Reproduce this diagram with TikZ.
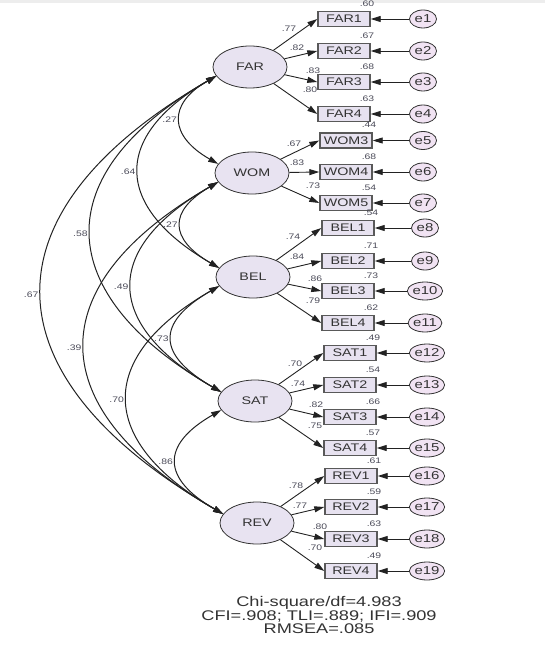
\documentclass[tikz,border=0pt]{standalone}
\usepackage{fontspec}
\setmainfont{Liberation Sans}[FakeStretch=1.3]
\usetikzlibrary{shapes.geometric,arrows.meta}
\definecolor{latfill}{HTML}{E8E3F1}
\definecolor{boxfill}{HTML}{E7E2F0}
\definecolor{errfill}{HTML}{F1E3F3}
\definecolor{numcol}{HTML}{4A4A58}
\definecolor{txtcol}{HTML}{333333}
\definecolor{linecol}{HTML}{222222}
\tikzset{
  lat/.style={ellipse, draw=txtcol, line width=0.8pt, fill=latfill, minimum width=74pt, minimum height=42pt, inner sep=0pt, text=txtcol, font=\fontsize{11}{13}\selectfont},
  item/.style={rectangle, draw=black!65, line width=1.4pt, fill=boxfill, minimum width=52pt, minimum height=15pt, inner sep=0pt, text=txtcol, font=\fontsize{11}{13}\selectfont},
  err/.style={ellipse, draw=txtcol, line width=0.8pt, fill=errfill, minimum width=27pt, minimum height=18pt, inner sep=0pt, text=txtcol, font=\fontsize{11.5}{13}\selectfont},
  lab/.style={text=numcol, font=\fontsize{8}{9}\selectfont, inner sep=0pt},
  arr/.style={draw=linecol, line width=0.9pt, -{Triangle[length=10pt,width=6pt]}},
  cov/.style={draw=linecol, line width=1pt, {Triangle[length=10pt,width=6pt]}-{Triangle[length=10pt,width=6pt]}},
  fit/.style={align=center, text=txtcol, font=\fontsize{14}{13.4}\selectfont, inner sep=0pt}
}
\begin{document}
\begin{tikzpicture}[x=1pt,y=-1pt]
\useasboundingbox (0,0) rectangle (545,663);
\fill[black!7] (0,0) rectangle (545,3);
% latent variables
\node[lat] (FAR) at (250,67) {FAR};
\node[lat] (WOM) at (252,173) {WOM};
\node[lat] (BEL) at (253,277) {BEL};
\node[lat] (SAT) at (255,401) {SAT};
\node[lat] (REV) at (257,523) {REV};
% indicators, errors, R2
\foreach \n/\x/\y/\e/\ex/\r in {
  FAR1/344/19/e1/423/.60, FAR2/344/51/e2/423/.67, FAR3/344/82/e3/423/.68, FAR4/344/114/e4/423/.63,
  WOM3/346/140.5/e5/423/.44, WOM4/346/172/e6/423/.68, WOM5/346/203/e7/423/.54,
  BEL1/348/228/e8/425/.54, BEL2/348/261/e9/425/.71, BEL3/348/291/e10/425/.73, BEL4/348/323/e11/425/.62,
  SAT1/350/353/e12/427/.49, SAT2/350/385/e13/427/.54, SAT3/350/417/e14/427/.66, SAT4/350/448/e15/427/.57,
  REV1/351/476/e16/427/.61, REV2/351/507/e17/427/.59, REV3/351/539/e18/427/.63, REV4/351/571/e19/427/.49}{
  \node[item] (\n) at (\x,\y) {\n};
  \node[err] (\e) at (\ex,\y) {\e};
  \draw[arr] (\e) -- (\n);
  \node[lab] at (\x+23,\y-15.5) {\r};
}
% loadings
\draw[arr] (FAR) -- (FAR1.west); \node[lab] at (289,29) {.77};
\draw[arr] (FAR) -- (FAR2.west); \node[lab] at (297,48) {.82};
\draw[arr] (FAR) -- (FAR3.west); \node[lab] at (313,71) {.83};
\draw[arr] (FAR) -- (FAR4.west); \node[lab] at (310,90) {.80};
\draw[arr] (WOM) -- (WOM3.west); \node[lab] at (294,144) {.67};
\draw[arr] (WOM) -- (WOM4.west); \node[lab] at (297,163) {.83};
\draw[arr] (WOM) -- (WOM5.west); \node[lab] at (313,186) {.73};
\draw[arr] (BEL) -- (BEL1.west); \node[lab] at (293,237) {.74};
\draw[arr] (BEL) -- (BEL2.west); \node[lab] at (297,257) {.84};
\draw[arr] (BEL) -- (BEL3.west); \node[lab] at (315,279) {.86};
\draw[arr] (BEL) -- (BEL4.west); \node[lab] at (313,301) {.79};
\draw[arr] (SAT) -- (SAT1.west); \node[lab] at (295,364) {.70};
\draw[arr] (SAT) -- (SAT2.west); \node[lab] at (298,384) {.74};
\draw[arr] (SAT) -- (SAT3.west); \node[lab] at (316,405) {.82};
\draw[arr] (SAT) -- (SAT4.west); \node[lab] at (315,426) {.75};
\draw[arr] (REV) -- (REV1.west); \node[lab] at (296,486) {.78};
\draw[arr] (REV) -- (REV2.west); \node[lab] at (300,506) {.77};
\draw[arr] (REV) -- (REV3.west); \node[lab] at (320,527) {.80};
\draw[arr] (REV) -- (REV4.west); \node[lab] at (315,548) {.70};
% covariances
\draw[cov] (FAR.195) .. controls +(-49,28) and +(-49,-28) .. (WOM.165) node[lab,pos=.5,left=3pt] {.27};
\draw[cov] (FAR.195) .. controls +(-105,61) and +(-105,-61) .. (BEL.165) node[lab,pos=.5,left=3pt] {.64};
\draw[cov] (FAR.195) .. controls +(-170,98) and +(-170,-98) .. (SAT.165) node[lab,pos=.5,left=3pt] {.58};
\draw[cov] (FAR.195) .. controls +(-237,137) and +(-237,-137) .. (REV.165) node[lab,pos=.5,left=3pt] {.67};
\draw[cov] (WOM.195) .. controls +(-50,29) and +(-50,-29) .. (BEL.165) node[lab,pos=.5,left=3pt] {.27};
\draw[cov] (WOM.195) .. controls +(-117,67) and +(-117,-67) .. (SAT.165) node[lab,pos=.5,left=3pt] {.49};
\draw[cov] (WOM.195) .. controls +(-181,104) and +(-181,-104) .. (REV.165) node[lab,pos=.5,left=3pt] {.39};
\draw[cov] (BEL.195) .. controls +(-64,37) and +(-64,-37) .. (SAT.165) node[lab,pos=.5,left=3pt] {.73};
\draw[cov] (BEL.195) .. controls +(-125,72) and +(-125,-72) .. (REV.165) node[lab,pos=.5,left=3pt] {.70};
\draw[cov] (SAT.195) .. controls +(-61,35) and +(-61,-35) .. (REV.165) node[lab,pos=.5,left=3pt] {.86};
% fit indices
\node[fit] (fitidx) at (319,615) {Chi-square/df=4.983\\CFI=.908; TLI=.889; IFI=.909\\RMSEA=.085};
\end{tikzpicture}
\end{document}
